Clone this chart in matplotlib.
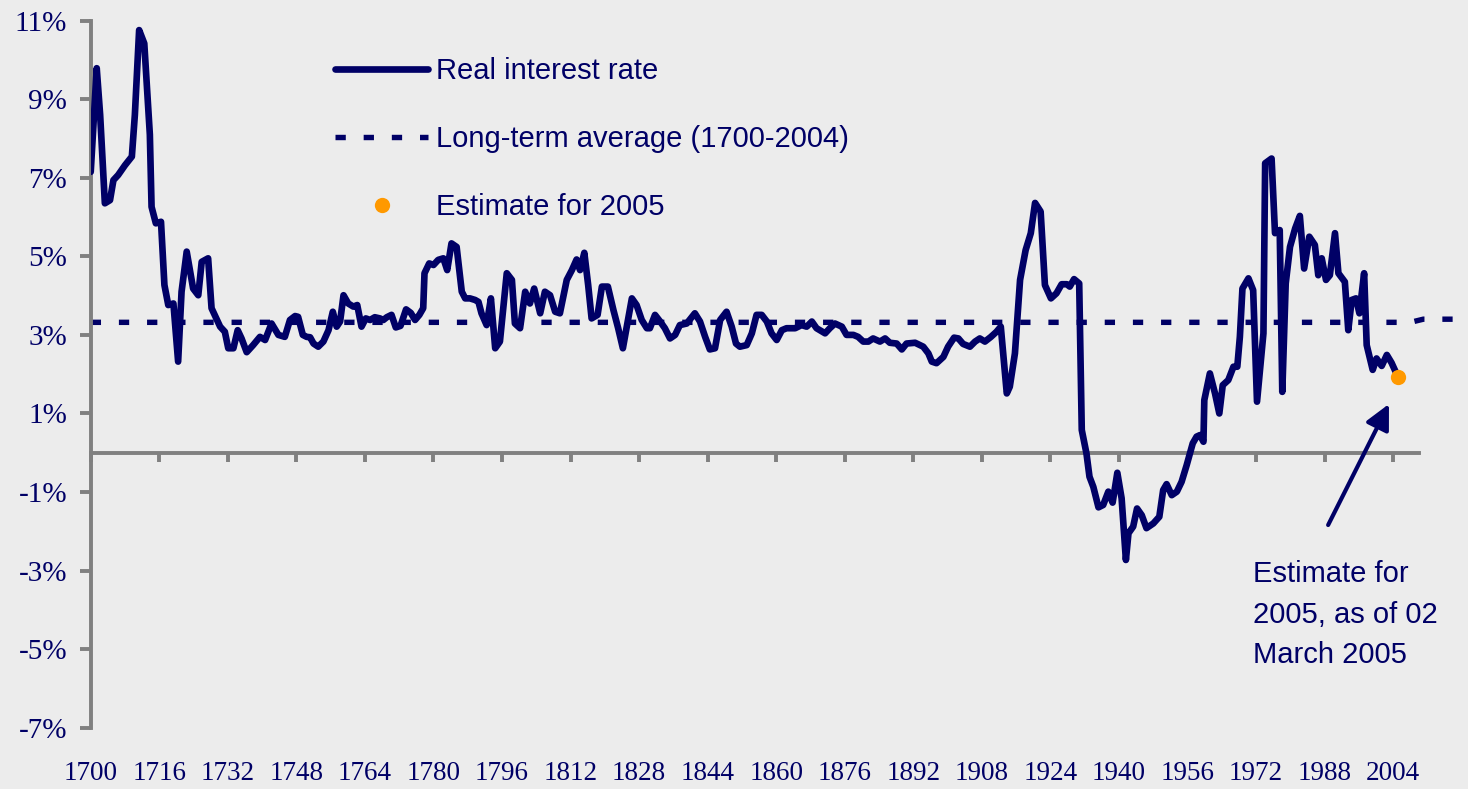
import matplotlib
matplotlib.use("Agg")
import matplotlib.pyplot as plt
from matplotlib.lines import Line2D

# data (vertices of the line)
years = [1700.0, 1701.4, 1702.2, 1703.3, 1704.5, 1705.3, 1706.4, 1708.0, 1709.6, 1710.3,
         1711.3, 1712.5, 1713.8, 1714.2, 1715.2, 1716.4, 1717.2, 1718.1, 1719.3, 1720.4,
         1721.2, 1722.4, 1723.9, 1725.1, 1725.9, 1727.4, 1728.2, 1730.2, 1731.3, 1732.1,
         1733.3, 1734.3, 1735.2, 1736.4, 1737.9, 1739.5, 1740.7, 1742.2, 1743.8, 1745.3,
         1746.5, 1747.7, 1748.4, 1749.5, 1750.4, 1751.2, 1752.0, 1753.1, 1754.3, 1755.5,
         1756.5, 1757.4, 1758.2, 1759.0, 1760.1, 1761.3, 1762.2, 1763.2, 1764.2, 1765.2,
         1766.3, 1767.5, 1768.3, 1769.1, 1770.2, 1771.2, 1772.3, 1773.6, 1774.7, 1775.7,
         1776.7, 1777.6, 1777.9, 1779.0, 1780.0, 1781.1, 1782.3, 1783.2, 1784.2, 1785.4,
         1786.6, 1787.4, 1788.5, 1789.7, 1790.5, 1791.2, 1792.4, 1793.4, 1794.4, 1795.5,
         1797.1, 1798.3, 1799.0, 1800.2, 1801.4, 1802.5, 1803.5, 1804.9, 1806.0, 1807.2,
         1808.4, 1809.5, 1811.1, 1812.3, 1813.4, 1814.2, 1815.2, 1816.1, 1816.9, 1818.3,
         1819.3, 1820.7, 1822.0, 1823.1, 1824.2, 1825.1, 1826.3, 1827.4, 1828.6, 1829.8,
         1830.5, 1831.7, 1832.9, 1834.0, 1835.2, 1836.4, 1837.5, 1839.1, 1841.0, 1842.2,
         1843.4, 1844.5, 1845.7, 1846.9, 1848.4, 1849.6, 1850.6, 1851.5, 1853.1, 1854.3,
         1855.4, 1856.6, 1857.8, 1858.9, 1860.1, 1861.3, 1862.4, 1864.4, 1865.9, 1867.1,
         1868.3, 1869.4, 1871.4, 1872.5, 1873.7, 1875.3, 1876.4, 1878.0, 1879.1, 1880.3,
         1881.5, 1882.6, 1884.2, 1885.4, 1886.5, 1888.1, 1889.3, 1890.4, 1892.4, 1894.3,
         1895.5, 1896.3, 1897.4, 1899.0, 1900.1, 1901.5, 1902.5, 1903.6, 1905.2, 1906.4,
         1907.5, 1908.7, 1910.1, 1911.4, 1912.4, 1913.8, 1914.5, 1915.7, 1916.9, 1918.2,
         1919.4, 1920.4, 1921.7, 1922.7, 1924.1, 1925.4, 1926.6, 1927.8, 1928.5, 1929.5,
         1930.7, 1931.3, 1932.4, 1933.1, 1934.0, 1935.2, 1936.3, 1937.5, 1938.5, 1939.6,
         1940.6, 1941.6, 1942.2, 1943.3, 1944.2, 1945.3, 1946.4, 1948.0, 1949.4, 1950.3,
         1951.1, 1952.3, 1953.5, 1954.6, 1955.8, 1957.2, 1958.1, 1958.9, 1959.7, 1959.9,
         1961.2, 1962.4, 1963.4, 1964.2, 1965.5, 1966.7, 1967.6, 1968.2, 1968.8, 1970.2,
         1971.3, 1972.2, 1973.7, 1974.1, 1975.6, 1976.4, 1977.5, 1978.1, 1978.9, 1979.9,
         1981.1, 1982.2, 1983.2, 1984.4, 1985.7, 1986.5, 1987.3, 1988.3, 1989.2, 1990.4,
         1991.2, 1992.7, 1993.5, 1994.3, 1995.3, 1996.1, 1997.2, 1997.8, 1999.2, 2000.1,
         2001.3, 2002.5, 2003.6, 2004.6]
rates = [7.15, 9.79, 8.60, 6.35, 6.43, 6.94, 7.07, 7.32, 7.54, 8.60,
         10.76, 10.42, 8.10, 6.26, 5.84, 5.88, 4.27, 3.76, 3.80, 2.32,
         4.10, 5.12, 4.18, 4.01, 4.86, 4.95, 3.68, 3.21, 3.08, 2.66,
         2.66, 3.12, 2.91, 2.56, 2.74, 2.95, 2.87, 3.29, 3.00, 2.95,
         3.38, 3.48, 3.46, 3.00, 2.95, 2.94, 2.78, 2.70, 2.83, 3.12,
         3.59, 3.21, 3.34, 4.01, 3.80, 3.72, 3.76, 3.21, 3.42, 3.38,
         3.45, 3.42, 3.38, 3.45, 3.51, 3.19, 3.23, 3.65, 3.56, 3.38,
         3.51, 3.68, 4.57, 4.82, 4.78, 4.91, 4.95, 4.65, 5.33, 5.24,
         4.10, 3.93, 3.93, 3.89, 3.84, 3.55, 3.25, 3.93, 2.66, 2.83,
         4.57, 4.40, 3.29, 3.17, 4.10, 3.80, 4.18, 3.55, 4.10, 4.01,
         3.59, 3.55, 4.40, 4.65, 4.92, 4.65, 5.09, 4.27, 3.42, 3.51,
         4.23, 4.23, 3.63, 3.17, 2.66, 3.21, 3.93, 3.76, 3.38, 3.17,
         3.17, 3.51, 3.34, 3.17, 2.91, 3.00, 3.25, 3.29, 3.55, 3.34,
         2.95, 2.63, 2.66, 3.38, 3.59, 3.21, 2.78, 2.70, 2.74, 3.04,
         3.51, 3.51, 3.34, 3.04, 2.87, 3.12, 3.17, 3.17, 3.25, 3.21,
         3.34, 3.17, 3.04, 3.17, 3.29, 3.21, 3.00, 3.00, 2.95, 2.83,
         2.83, 2.91, 2.83, 2.91, 2.80, 2.78, 2.63, 2.78, 2.80, 2.70,
         2.53, 2.32, 2.28, 2.44, 2.70, 2.93, 2.91, 2.77, 2.70, 2.83,
         2.91, 2.83, 2.95, 3.08, 3.21, 1.51, 1.68, 2.53, 4.40, 5.16,
         5.59, 6.36, 6.14, 4.27, 3.93, 4.06, 4.29, 4.29, 4.23, 4.42,
         4.31, 0.58, -0.02, -0.61, -0.87, -1.39, -1.33, -0.99, -1.27, -0.51,
         -1.16, -2.73, -2.05, -1.88, -1.42, -1.59, -1.92, -1.80, -1.63, -0.95,
         -0.80, -1.08, -0.99, -0.74, -0.31, 0.24, 0.41, 0.45, 0.28, 1.34,
         2.02, 1.51, 1.00, 1.72, 1.85, 2.19, 2.19, 2.95, 4.18, 4.44,
         4.14, 1.30, 3.04, 7.37, 7.49, 5.59, 5.67, 1.55, 4.31, 5.24,
         5.71, 6.03, 4.69, 5.50, 5.29, 4.52, 4.95, 4.40, 4.52, 5.59,
         4.57, 4.35, 3.12, 3.89, 3.93, 3.55, 4.57, 2.74, 2.11, 2.40,
         2.21, 2.49, 2.29, 2.05]

avg_years = [1700, 2008, 2011, 2021]
avg_values = [3.32, 3.32, 3.40, 3.40]

estimate_year = [2005]
estimate_value = [1.92]

xticks = list(range(1700, 2005, 16))
yticks = list(range(-7, 12, 2))

NAVY = "#000066"
GRAY = "#808080"
ORANGE = "#FF9900"
BG = "#ECECEC"


def plot_chart():
    fig = plt.figure(figsize=(14.68, 7.89), dpi=100, facecolor=BG)
    ax = fig.add_axes([0.0618, 0.0777, 0.9048, 0.8961])
    ax.set_facecolor(BG)

    ax.plot(avg_years, avg_values, color=NAVY, lw=3.9, dashes=(1.9, 3.3),
            dash_capstyle="butt", clip_on=False, zorder=2)
    ax.plot(years, rates, color=NAVY, lw=4.8, solid_joinstyle="round",
            solid_capstyle="round", zorder=3)
    ax.plot(estimate_year, estimate_value, "o", color=ORANGE, ms=11,
            mec="none", zorder=4)

    ax.set_xlim(1700, 2010)
    ax.set_ylim(-7, 11)

    for s in ["top", "right"]:
        ax.spines[s].set_visible(False)
    ax.spines["left"].set_color(GRAY)
    ax.spines["left"].set_linewidth(2.8)
    ax.spines["bottom"].set_position(("data", 0))
    ax.spines["bottom"].set_color(GRAY)
    ax.spines["bottom"].set_linewidth(2.8)

    ax.set_yticks(yticks, [f"{v}%" for v in yticks])
    ax.tick_params(axis="y", direction="out", length=8, width=2.8, color=GRAY,
                   labelcolor=NAVY, labelsize=21, pad=9)
    for lab in ax.get_yticklabels():
        lab.set_family("Liberation Serif")

    ax.set_xticks(xticks, [])
    ax.tick_params(axis="x", direction="out", length=6.5, width=2.8, color=GRAY)

    sec = ax.secondary_xaxis("bottom")
    sec.set_xticks(xticks, [str(t) for t in xticks])
    sec.tick_params(length=0, pad=24, labelcolor=NAVY, labelsize=19.5)
    sec.spines["bottom"].set_visible(False)
    for lab in sec.get_xticklabels():
        lab.set_family("Liberation Serif")

    handles = [
        Line2D([], [], color=NAVY, lw=4.8, solid_capstyle="round"),
        Line2D([], [], color=NAVY, lw=3.9, dashes=(1.9, 3.3), dash_capstyle="butt"),
        Line2D([], [], color=ORANGE, marker="o", ms=11, mec="none", ls="none"),
    ]
    labels = ["Real interest rate", "Long-term average (1700-2004)", "Estimate for 2005"]
    leg = fig.legend(handles, labels, loc="upper left",
                     bbox_to_anchor=(335 / 1468, 1 - 57 / 789),
                     frameon=False, borderpad=0, borderaxespad=0,
                     handlelength=3.2, handletextpad=0.27, labelspacing=1.37,
                     prop={"family": "Liberation Sans", "size": 21})
    for t in leg.get_texts():
        t.set_color(NAVY)

    ax.annotate("", xy=(2003.0, 1.24), xytext=(1988.8, -1.84),
                arrowprops=dict(arrowstyle="-|>,head_length=0.6,head_width=0.3",
                                mutation_scale=25, lw=3, color=NAVY,
                                shrinkA=0, shrinkB=0))
    ax.text(1971.2, -2.73, "Estimate for\n2005, as of 02\nMarch 2005",
            ha="left", va="top", color=NAVY, fontsize=21,
            family="Liberation Sans", linespacing=1.57)

    fig.savefig("out.png", dpi=100, facecolor=BG)


plot_chart()
